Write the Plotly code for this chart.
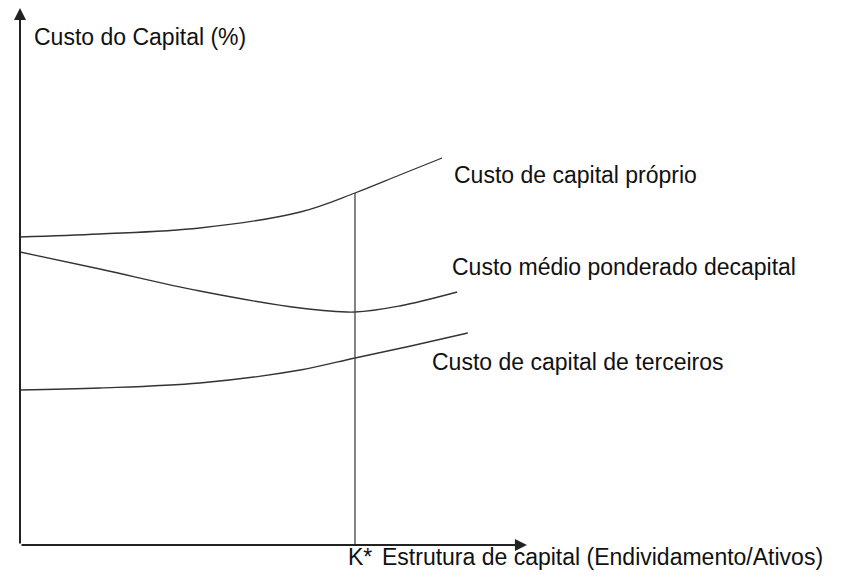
import plotly.graph_objects as go

# debt ratio (arbitrary units), K* at 6
k_star = 6.0
x_end = 9.08          # end of the x axis arrow
y_top = 26.85         # end of the y axis arrow

x_proprio = [0.0, 1.43, 3.22, 5.02, 6.0, 6.8, 7.56]
y_proprio = [15.4, 15.55, 15.85, 16.65, 17.6, 18.5, 19.35]

x_medio = [0.0, 1.43, 3.22, 5.02, 6.0, 6.8, 7.83]
y_medio = [14.65, 13.8, 12.7, 11.85, 11.65, 11.95, 12.65]

x_terceiros = [0.0, 1.43, 3.22, 5.02, 6.0, 7.0, 8.02]
y_terceiros = [7.75, 7.85, 8.1, 8.75, 9.35, 9.95, 10.6]

curve_labels = ["Custo de capital próprio",
                "Custo médio ponderado decapital",
                "Custo de capital de terceiros"]
label_x = [7.74, 7.70, 7.34]
label_y = [18.5, 13.9, 9.15]

FONT = "Liberation Sans, Arial, sans-serif"
FS = 23
LINE = "#333333"

fig = go.Figure()
for xs, ys in [(x_proprio, y_proprio), (x_medio, y_medio), (x_terceiros, y_terceiros)]:
    fig.add_trace(go.Scatter(x=xs, y=ys, mode="lines",
                             line=dict(color=LINE, width=1.3, shape="spline"),
                             hoverinfo="skip", showlegend=False))

# vertical line at K* up to the equity cost curve
fig.add_trace(go.Scatter(x=[k_star, k_star], y=[0, y_proprio[x_proprio.index(k_star)]],
                         mode="lines", line=dict(color="#444444", width=1.3),
                         hoverinfo="skip", showlegend=False))

# axes with arrows
fig.add_annotation(x=0, y=y_top, ax=0, ay=0, xref="x", yref="y", axref="x", ayref="y",
                   showarrow=True, arrowhead=2, arrowsize=1.2, arrowwidth=2, arrowcolor="#222", text="")
fig.add_annotation(x=x_end, y=0, ax=0, ay=0, xref="x", yref="y", axref="x", ayref="y",
                   showarrow=True, arrowhead=2, arrowsize=1.2, arrowwidth=2, arrowcolor="#222", text="")

fig.add_annotation(x=0.21, y=25.4, text="Custo do Capital (%)", showarrow=False,
                   xanchor="left", yanchor="middle", font=dict(family=FONT, size=FS, color="#111"))
for t, lx, ly in zip(curve_labels, label_x, label_y):
    fig.add_annotation(x=lx, y=ly, text=t, showarrow=False, xanchor="left", yanchor="middle",
                       font=dict(family=FONT, size=FS, color="#111"))
fig.add_annotation(x=k_star + 0.09, y=0, yref="paper", yshift=-12, text="K*", showarrow=False,
                   xanchor="center", yanchor="middle", font=dict(family=FONT, size=FS, color="#111"))
fig.add_annotation(x=6.45, y=0, yref="paper", yshift=-12,
                   text="Estrutura de capital (Endividamento/Ativos)", showarrow=False,
                   xanchor="left", yanchor="middle", font=dict(family=FONT, size=FS, color="#111"))

# page body adds an 8px offset, so the figure is a bit smaller than the window
fig.update_layout(
    width=835, height=571,
    margin=dict(l=12, r=0, t=0, b=34),
    plot_bgcolor="white", paper_bgcolor="white",
    xaxis=dict(range=[0, 823 / 55.83], visible=False, fixedrange=True),
    yaxis=dict(range=[0, 537 / 20], visible=False, fixedrange=True),
)

fig.write_html("out.html")
